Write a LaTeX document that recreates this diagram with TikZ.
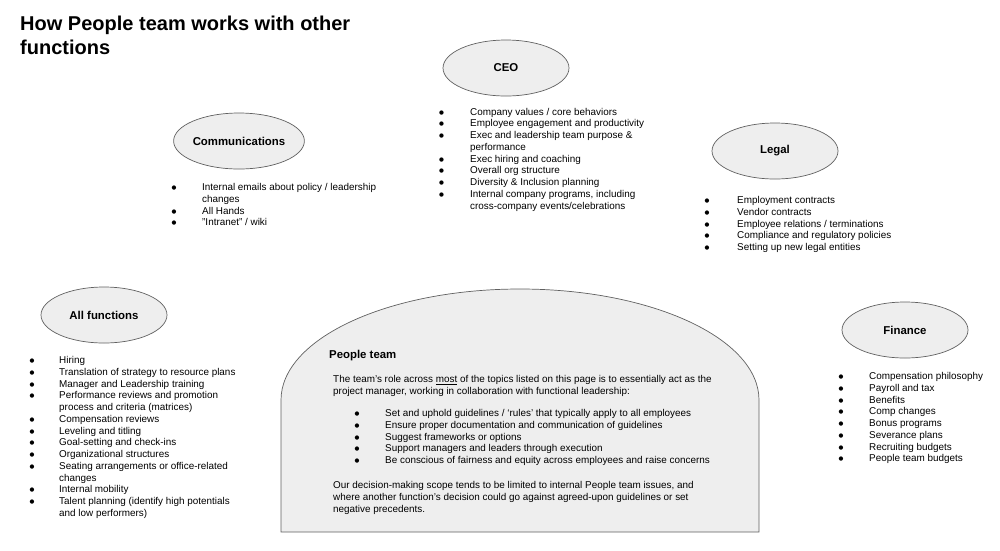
\documentclass[tikz,border=0pt]{standalone}
\usepackage{fontspec}
\setmainfont{Liberation Sans}
\newfontfamily\dejavu{DejaVu Sans}
\usetikzlibrary{shapes.geometric}
\definecolor{shapefill}{HTML}{EEEEEE}
\definecolor{shapeline}{HTML}{606060}
\newcommand{\bodyfont}{\fontsize{9.9}{11.75}\selectfont}
\newcommand{\itm}{\smash{\raisebox{0.9pt}{\dejavu\fontsize{5.6}{6}\selectfont ●}}}
\tikzset{
  func/.style={ellipse, draw=shapeline, fill=shapefill, line width=0.7pt,
    minimum width=126pt, minimum height=56pt, inner sep=0pt,
    font=\fontsize{11.4}{13}\selectfont\bfseries},
  txt/.style={anchor=base west, inner sep=0pt, font=\bodyfont},
  headtxt/.style={anchor=base west, inner sep=0pt, font=\fontsize{11.4}{13}\selectfont\bfseries},
  titletxt/.style={anchor=base west, inner sep=0pt, font=\fontsize{20}{23.3}\selectfont\bfseries},
  peopleshape/.style={draw=shapeline, fill=shapefill, line width=0.7pt}
}
\begin{document}
\begin{tikzpicture}[x=1pt,y=-1pt]
\useasboundingbox (0,0) rectangle (1000,550);

% title
\node[titletxt] (title) at (20,30.7) {\begin{tabular}[t]{@{}l@{}}How People team works with other\\functions\end{tabular}};

% people team shape
\draw[peopleshape] (281,532) -- (281,400) arc[start angle=180, end angle=0, x radius=239pt, y radius=111pt] -- (759,532) -- cycle;

% ellipses
\node[func] (ceo) at (506,68) {CEO};
\node[func] (comm) at (239,141) {Communications};
\node[func] (legal) at (775,151) {Legal};
\node[func] (allf) at (104,315) {All functions};
\node[func] (fin) at (905,330) {Finance};

% CEO list
\node[txt] (ceolist) at (438.8,115) {\begin{tabular}[t]{@{}p{31.2pt}@{}l@{}}
\itm & Company values / core behaviors\\
\itm & Employee engagement and productivity\\
\itm & Exec and leadership team purpose \&\\
 & performance\\
\itm & Exec hiring and coaching\\
\itm & Overall org structure\\
\itm & Diversity \& Inclusion planning\\
\itm & Internal company programs, including\\
 & cross-company events/celebrations
\end{tabular}};

% Communications list
\node[txt] (commlist) at (171.3,190.5) {\begin{tabular}[t]{@{}p{30.7pt}@{}l@{}}
\itm & Internal emails about policy / leadership\\
 & changes\\
\itm & All Hands\\
\itm & "Intranet" / wiki
\end{tabular}};

% Legal list
\node[txt] (legallist) at (704.3,203.5) {\begin{tabular}[t]{@{}p{32.7pt}@{}l@{}}
\itm & Employment contracts\\
\itm & Vendor contracts\\
\itm & Employee relations / terminations\\
\itm & Compliance and regulatory policies\\
\itm & Setting up new legal entities
\end{tabular}};

% All functions list
\node[txt] (allflist) at (29.3,363.5) {\begin{tabular}[t]{@{}p{29.7pt}@{}l@{}}
\itm & Hiring\\
\itm & Translation of strategy to resource plans\\
\itm & Manager and Leadership training\\
\itm & Performance reviews and promotion\\
 & process and criteria (matrices)\\
\itm & Compensation reviews\\
\itm & Leveling and titling\\
\itm & Goal-setting and check-ins\\
\itm & Organizational structures\\
\itm & Seating arrangements or office-related\\
 & changes\\
\itm & Internal mobility\\
\itm & Talent planning (identify high potentials\\
 & and low performers)
\end{tabular}};

% Finance list
\node[txt] (finlist) at (838.3,379.5) {\begin{tabular}[t]{@{}p{30.7pt}@{}l@{}}
\itm & Compensation philosophy\\
\itm & Payroll and tax\\
\itm & Benefits\\
\itm & Comp changes\\
\itm & Bonus programs\\
\itm & Severance plans\\
\itm & Recruiting budgets\\
\itm & People team budgets
\end{tabular}};

% People team text
\node[headtxt] (pthead) at (329,358) {People team};
\node[txt] (ptpara1) at (333,382.5) {\begin{tabular}[t]{@{}l@{}}
The team’s role across \underline{most} of the topics listed on this page is to essentially act as the\\
project manager, working in collaboration with functional leadership:
\end{tabular}};
\node[txt] (ptlist) at (354.3,416.5) {\begin{tabular}[t]{@{}p{30.7pt}@{}l@{}}
\itm & Set and uphold guidelines / ‘rules’ that typically apply to all employees\\
\itm & Ensure proper documentation and communication of guidelines\\
\itm & Suggest frameworks or options\\
\itm & Support managers and leaders through execution\\
\itm & Be conscious of fairness and equity across employees and raise concerns
\end{tabular}};
\node[txt] (ptpara2) at (333,488.5) {\begin{tabular}[t]{@{}l@{}}
Our decision-making scope tends to be limited to internal People team issues, and\\
where another function’s decision could go against agreed-upon guidelines or set\\
negative precedents.
\end{tabular}};
\end{tikzpicture}
\end{document}
